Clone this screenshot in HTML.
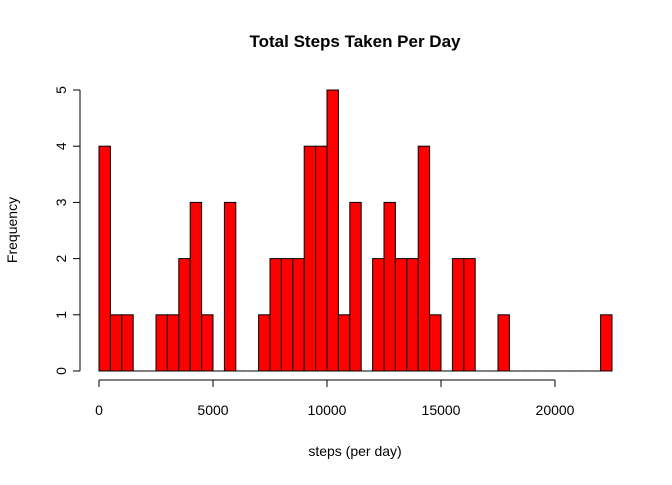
<!DOCTYPE html>
<html><head><meta charset="utf-8"><style>
body{margin:0;background:#fff}
svg text{font-family:"Liberation Sans",Arial,sans-serif;fill:#000}
</style></head><body>
<svg width="672" height="480">
<text x="355" y="47" text-anchor="middle" font-size="17" font-weight="bold">Total Steps Taken Per Day</text>
<text x="355" y="456" text-anchor="middle" font-size="14">steps (per day)</text>
<text x="17" y="230" text-anchor="middle" font-size="14" transform="rotate(-90 17 230)">Frequency</text>
<g id="bars"></g><g id="axes"></g>
</svg>
<script>
const binWidth = 500;
const counts = [4,1,1,0,0,1,1,2,3,1,0,3,0,0,1,2,2,2,4,4,5,1,3,0,2,3,2,2,4,1,0,2,2,0,0,1,0,0,0,0,0,0,0,0,1];
const xTicks = [0,5000,10000,15000,20000];
const yTicks = [0,1,2,3,4,5];
const ns="http://www.w3.org/2000/svg";
const X=v=>99+(v/20000)*456;
const Y=v=>371-(v/5)*281;
const bars=document.getElementById('bars'), axes=document.getElementById('axes');
function mk(tag,attrs,parent){const e=document.createElementNS(ns,tag);for(const k in attrs)e.setAttribute(k,attrs[k]);parent.appendChild(e);return e;}
counts.forEach((c,i)=>{
  let r;
  if(c>0){
    r=mk('rect',{x:X(i*binWidth),y:Y(c),width:X((i+1)*binWidth)-X(i*binWidth),height:Y(0)-Y(c),fill:'#ff0000',stroke:'#000','stroke-width':1},bars);
  } else {
    r=mk('line',{x1:X(i*binWidth),x2:X((i+1)*binWidth),y1:Y(0),y2:Y(0),stroke:'#000','stroke-width':1},bars);
  }
  
  
});
const xl=mk('line',{x1:X(0),x2:X(20000),y1:380,y2:380,stroke:'#000'},axes);


xTicks.forEach(t=>{
  mk('line',{x1:X(t),x2:X(t),y1:380,y2:387,stroke:'#000'},axes);
  const tx=mk('text',{x:X(t),y:415,'text-anchor':'middle','font-size':14},axes);tx.textContent=t;
  
  
});
const yl=mk('line',{x1:80,x2:80,y1:Y(0),y2:Y(5),stroke:'#000'},axes);


yTicks.forEach(t=>{
  mk('line',{x1:73,x2:80,y1:Y(t),y2:Y(t),stroke:'#000'},axes);
  const tx=mk('text',{x:66,y:Y(t),'text-anchor':'middle','font-size':14,transform:`rotate(-90 66 ${Y(t)})`},axes);tx.textContent=t;
  
  
});
</script>
</body></html>
